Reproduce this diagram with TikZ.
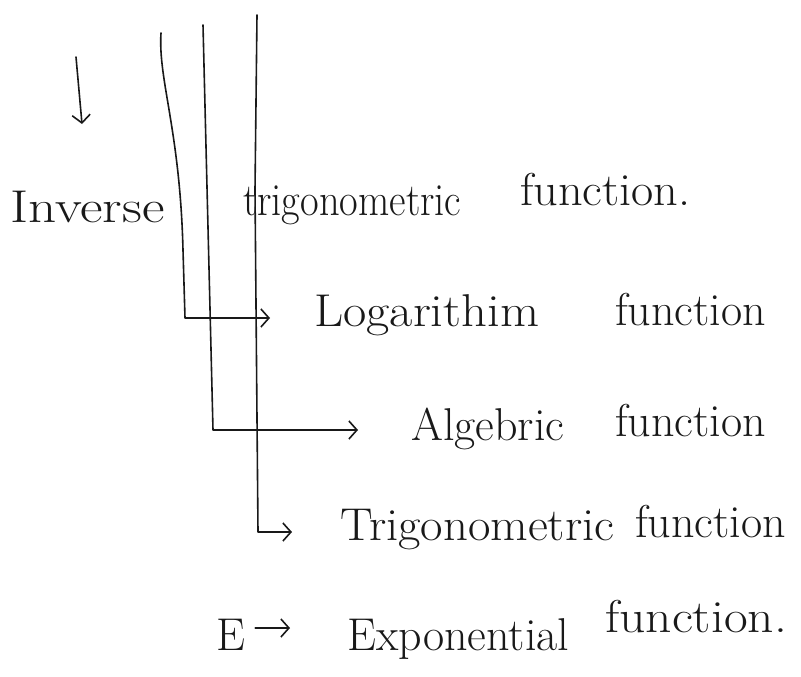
\documentclass[tikz,border=0pt]{standalone}
\usetikzlibrary{arrows.meta}
\begin{document}
\begin{tikzpicture}[x=1pt,y=-1pt,
  ink/.style={line width=1.6pt,line cap=round,line join=round,black!90},
  tip/.style={ink,-{Straight Barb[length=8pt,width=18pt]}},
  word/.style={font=\fontsize{46}{50}\selectfont,inner sep=0pt,anchor=base west,text=black!90}]
\useasboundingbox[fill=white] (0,0) rectangle (801,677);

% heading arrow
\coordinate (d0) at (76,57);
\coordinate (d1) at (82,124);
\draw[tip] (d0) -- (d1);

% function names
\node[word] (inv) at (10,222) {\scalebox{1.2}[1]{Inverse}};
\node[word] (trig1) at (243,215) {\scalebox{0.88}[1]{trigonometric}};
\node[word] (fun1) at (520,205) {\scalebox{1.05}[1]{function.}};
\node[word] (log) at (314,326) {\scalebox{1.1}[1]{Logarithim}};
\node[word] (fun2) at (615,325) {function};
\node[word] (alg) at (411,440) {Algebric};
\node[word] (fun3) at (615,436) {function};
\node[word] (trig2) at (340,540) {\scalebox{1.06}[1]{Trigonometric}};
\node[word] (fun4) at (635,537) {function};
\node[word] (e) at (216,650) {E};
\node[word] (exp) at (347,650) {Exponential};
\node[word] (fun5) at (605,632) {\scalebox{1.12}[1]{function.}};

% branch lines
\coordinate (s1) at (161,33);
\coordinate (c1) at (185,318);
\draw[tip,shorten >=44pt] (s1) .. controls (158,80) and (180,130) .. (183,250) -- (c1) -- (log.west |- c1);

\coordinate (s2) at (203,25);
\coordinate (c2) at (213,430);
\draw[tip,shorten >=53pt] (s2) -- (c2) -- (alg.west |- c2);

\coordinate (s3) at (257,15);
\coordinate (c3) at (258,532);
\draw[tip,shorten >=48pt] (s3) -- (255,190) -- (c3) -- (trig2.west |- c3);

% E arrow
\draw[tip,shorten <=10pt,shorten >=57pt] (e.east |- 628,628) -- (exp.west |- 628,628);
\end{tikzpicture}
\end{document}
